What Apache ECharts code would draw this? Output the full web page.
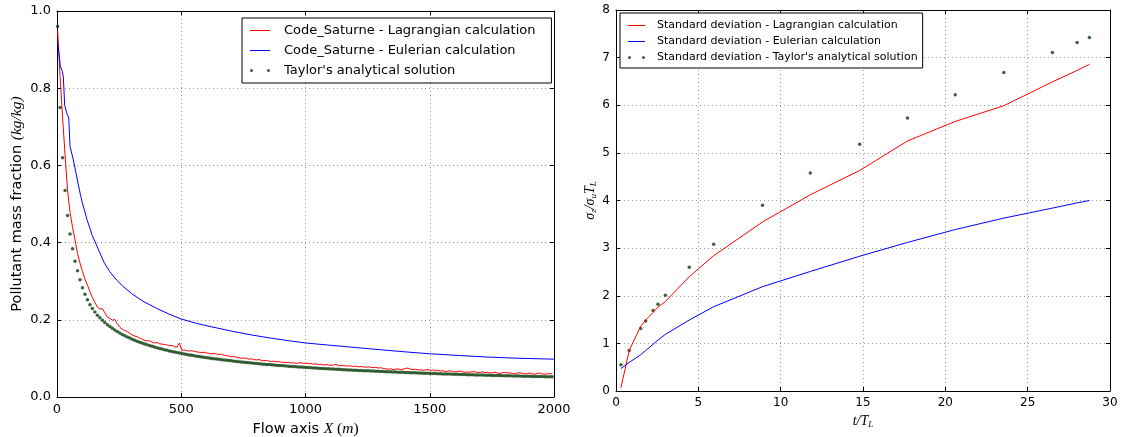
<!DOCTYPE html>
<html><head><meta charset="utf-8">
<script src="https://cdn.jsdelivr.net/npm/echarts@6/dist/echarts.min.js"></script>
<style>html,body{margin:0;padding:0;background:#fff}#c{width:1122px;height:437px}</style>
</head><body><div id="c"></div>
<script>
// ---------- LEFT PANEL DATA ----------
const stationStart = 2.5;   // first sampling station along X (m)
const stationStep = 10;     // station spacing (m)
const taylorLeft = [0.96,0.75,0.62,0.535,0.47,0.422,0.384,0.352,0.327,0.304,
 0.283,0.266,0.252,0.239,0.229,0.22,0.212,0.205,0.199,0.193,
 0.1875,0.1825,0.1779,0.1736,0.1695,0.1657,0.1622,0.1588,0.1556,0.1526,
 0.1497,0.147,0.1444,0.142,0.1396,0.1374,0.1353,0.1332,0.1313,0.1294,
 0.1276,0.1258,0.1241,0.1225,0.1209,0.1194,0.118,0.1166,0.1152,0.1139,
 0.1127,0.1114,0.1102,0.109,0.1079,0.1068,0.1057,0.1047,0.1037,0.1027,
 0.1018,0.1009,0.1,0.0991,0.0983,0.0975,0.0967,0.0959,0.0952,0.0944,
 0.0936,0.0929,0.0922,0.0915,0.0908,0.0901,0.0895,0.0889,0.0883,0.0877,
 0.0869,0.0863,0.0857,0.0851,0.0845,0.084,0.0834,0.0829,0.0824,0.0819,
 0.0813,0.0808,0.0803,0.0798,0.0793,0.0788,0.0784,0.0779,0.0775,0.0771,
 0.0766,0.0762,0.0758,0.0753,0.0749,0.0745,0.0741,0.0737,0.0734,0.073,
 0.0726,0.0723,0.0719,0.0716,0.0712,0.0709,0.0706,0.0702,0.0699,0.0696,
 0.0692,0.0689,0.0686,0.0683,0.068,0.0677,0.0674,0.0671,0.0668,0.0665,
 0.0662,0.0659,0.0657,0.0654,0.0651,0.0649,0.0646,0.0644,0.0641,0.0639,
 0.0636,0.0633,0.0631,0.0628,0.0626,0.0623,0.0621,0.0618,0.0616,0.0614,
 0.0611,0.0608,0.0606,0.0604,0.0601,0.0599,0.0597,0.0595,0.0593,0.0591,
 0.0589,0.0587,0.0585,0.0583,0.0581,0.0579,0.0577,0.0575,0.0573,0.0571,
 0.0569,0.0567,0.0565,0.0564,0.0562,0.056,0.0558,0.0557,0.0555,0.0553,
 0.0551,0.055,0.0548,0.0546,0.0545,0.0543,0.0541,0.054,0.0538,0.0537,
 0.0535,0.0534,0.0532,0.0531,0.0529,0.0528,0.0526,0.0525,0.0523,0.0522];
const lagrangianLeft = [0.95,0.83,0.725,0.626,0.536,0.478,0.44,0.407,0.372,0.347,
 0.325,0.305,0.29,0.273,0.258,0.245,0.233,0.228,0.229,0.218,
 0.207,0.204,0.199,0.201,0.19,0.181,0.176,0.172,0.17,0.165,
 0.161,0.158,0.156,0.153,0.15,0.147,0.145,0.146,0.142,0.14,
 0.141,0.138,0.137,0.136,0.135,0.133,0.134,0.13,0.129,0.14,
 0.121,0.122,0.12,0.119,0.12,0.118,0.117,0.116,0.115,0.116,
 0.114,0.113,0.112,0.113,0.111,0.11,0.111,0.108,0.107,0.106,
 0.104,0.105,0.103,0.102,0.1,0.101,0.1,0.098,0.099,0.097,
 0.096,0.097,0.095,0.094,0.095,0.093,0.092,0.093,0.091,0.092,
 0.09,0.09,0.089,0.09,0.088,0.089,0.087,0.088,0.089,0.087,
 0.088,0.086,0.087,0.085,0.086,0.084,0.085,0.083,0.084,0.083,
 0.082,0.083,0.084,0.082,0.081,0.082,0.08,0.081,0.08,0.079,
 0.08,0.078,0.079,0.078,0.077,0.078,0.077,0.076,0.077,0.075,
 0.076,0.074,0.073,0.072,0.073,0.071,0.072,0.073,0.071,0.072,
 0.074,0.075,0.072,0.071,0.072,0.07,0.071,0.069,0.07,0.071,
 0.069,0.07,0.068,0.069,0.067,0.068,0.066,0.067,0.068,0.066,
 0.065,0.066,0.067,0.065,0.064,0.065,0.064,0.066,0.065,0.063,
 0.064,0.065,0.063,0.064,0.062,0.063,0.064,0.062,0.061,0.063,
 0.064,0.062,0.063,0.061,0.06,0.062,0.063,0.061,0.06,0.061,
 0.062,0.06,0.059,0.061,0.062,0.06,0.059,0.06,0.061,0.06];
const eulerianLeftX = [1.5,8,13.5,21.5,25.5,31,41.5,47,52.5,64,75,84.5,95,102,112,121,131,142,152,162,172,190,212,240,265,300,346,400,450,500,560,620,708,780,856,930,1000,1100,1257,1380,1500,1620,1727,1850,2000];
const eulerianLeftY = [0.924,0.89,0.857,0.844,0.829,0.755,0.731,0.725,0.649,0.619,0.585,0.554,0.522,0.503,0.48,0.459,0.44,0.418,0.404,0.389,0.374,0.348,0.325,0.303,0.287,0.268,0.248,0.23,0.215,0.202,0.191,0.182,0.17,0.161,0.153,0.146,0.14,0.134,0.125,0.118,0.112,0.1075,0.1036,0.1005,0.098];
const leftXTicks = {min: 0, max: 2000, step: 500};
const leftYTicks = {min: 0, max: 1, step: 0.2};

// ---------- RIGHT PANEL DATA ----------
const timeRatio   = [0.3,0.8,1.5,1.8,2.25,2.55,3.0,4.45,5.93,8.9,11.8,14.8,17.7,20.6,23.55,26.5,28.0,28.75];
const sigmaLagr   = [0.07,0.85,1.36,1.49,1.65,1.76,1.88,2.4,2.84,3.55,4.12,4.63,5.25,5.66,5.99,6.49,6.73,6.86];
const sigmaEul    = [0.47,0.6,0.76,0.85,0.98,1.07,1.19,1.49,1.77,2.19,2.51,2.83,3.12,3.39,3.63,3.84,3.95,4.0];
const sigmaTaylor = [0.55,0.85,1.31,1.47,1.69,1.82,2.01,2.6,3.08,3.9,4.58,5.18,5.73,6.22,6.69,7.11,7.32,7.42];
const rightXTicks = {min: 0, max: 30, step: 5};
const rightYTicks = {min: 0, max: 8, step: 1};

const leftNames = ['Code_Saturne - Lagrangian calculation','Code_Saturne - Eulerian calculation',"Taylor's analytical solution"];
const rightNames = ['Standard deviation - Lagrangian calculation','Standard deviation - Eulerian calculation',"Standard deviation - Taylor's analytical solution"];

// ---------- build ----------
const stationX = taylorLeft.map((_, i) => stationStart + i * stationStep);
const pairs = (xs, ys) => xs.map((x, i) => [x, ys[i]]);

const SANS = 'DejaVu Sans';
const SERIF = 'Liberation Serif';
const RED = '#ff0000', BLUE = '#0000ff', GREEN = '#0b3d0b';
const gridLine = {show: true, lineStyle: {color: '#9a9a9a', type: [1, 3], width: 1}};
const frameLine = {show: true, onZero: false, lineStyle: {color: '#000', width: 1}};
const tick = {show: true, inside: true, length: 4, lineStyle: {color: '#000'}};

function mainAxis(gi, t, pos, fs, fmt, extra) {
  return Object.assign({
    type: 'value', gridIndex: gi, position: pos, min: t.min, max: t.max, interval: t.step,
    axisLine: frameLine, axisTick: tick, splitLine: gridLine,
    axisLabel: {color: '#000', fontFamily: SANS, fontSize: fs, margin: 6, formatter: fmt}
  }, extra || {});
}
function mirrorAxis(gi, t, pos) {
  return {type: 'value', gridIndex: gi, position: pos, min: t.min, max: t.max, interval: t.step,
    axisLine: frameLine, axisTick: tick, splitLine: {show: false}, axisLabel: {show: false}};
}
const mathRich = {
  t: {fontFamily: SANS, fontSize: 14.5, color: '#000'},
  m: {fontFamily: SERIF, fontStyle: 'italic', fontSize: 15.5, color: '#000'},
  r: {fontFamily: SERIF, fontSize: 15.5, color: '#000'}
};
const mathRich2 = {
  m: {fontFamily: SERIF, fontStyle: 'italic', fontSize: 14, color: '#000', lineHeight: 16},
  s: {fontFamily: SERIF, fontStyle: 'italic', fontSize: 9, color: '#000', lineHeight: 16, verticalAlign: 'bottom', padding: [6, 0, 0, 0]}
};

const lineIconL = 'path://M0,0H20V1H0Z';
const dotsIconL = 'path://M0,1.5a1.5,1.5 0 1,0 3,0a1.5,1.5 0 1,0 -3,0M17,1.5a1.5,1.5 0 1,0 3,0a1.5,1.5 0 1,0 -3,0';
const lineIconR = 'path://M0,0H17V1H0Z';
const dotsIconR = 'path://M0,1.5a1.5,1.5 0 1,0 3,0a1.5,1.5 0 1,0 -3,0M14,1.5a1.5,1.5 0 1,0 3,0a1.5,1.5 0 1,0 -3,0';

const option = {
  animation: false,
  backgroundColor: '#fff',
  grid: [
    {left: 57, top: 11, width: 497, height: 386, outerBoundsMode: 'none', containLabel: false},
    {left: 616, top: 10, width: 494, height: 381, outerBoundsMode: 'none', containLabel: false}
  ],
  xAxis: [
    mainAxis(0, leftXTicks, 'bottom', 13, v => String(v), {
      name: '{t|Flow axis }{m|X}{r| (}{m|m}{r|)}', nameLocation: 'middle', nameGap: 23,
      nameTextStyle: {rich: mathRich}
    }),
    mirrorAxis(0, leftXTicks, 'top'),
    mainAxis(1, rightXTicks, 'bottom', 12, v => String(v), {
      name: '{m|t/T}{s|L}', nameLocation: 'middle', nameGap: 22,
      nameTextStyle: {rich: mathRich2}
    }),
    mirrorAxis(1, rightXTicks, 'top')
  ],
  yAxis: [
    mainAxis(0, leftYTicks, 'left', 13, v => v.toFixed(1), {
      name: '{t|Pollutant mass fraction }{m|(kg/kg)}', nameLocation: 'middle', nameGap: 32,
      nameTextStyle: {rich: mathRich}
    }),
    mirrorAxis(0, leftYTicks, 'right'),
    mainAxis(1, rightYTicks, 'left', 12, v => String(v), {
      name: '{m|σ}{s|z}{m|/σ}{s|u}{m|T}{s|L}', nameLocation: 'middle', nameGap: 17,
      nameTextStyle: {rich: mathRich2}
    }),
    mirrorAxis(1, rightYTicks, 'right')
  ],
  legend: [
    {
      left: 242, top: 18, orient: 'vertical', padding: [6, 16, 6, 8], itemGap: 7,
      itemWidth: 20, itemHeight: 14, borderColor: '#000', borderWidth: 1, backgroundColor: '#fff',
      textStyle: {fontFamily: SANS, fontSize: 13, color: '#000', padding: [0, 0, 0, 9]},
      data: [{name: leftNames[0], icon: lineIconL}, {name: leftNames[1], icon: lineIconL}, {name: leftNames[2], icon: dotsIconL}]
    },
    {
      left: 620, top: 13, orient: 'vertical', padding: [7, 5, 5, 8], itemGap: 5,
      itemWidth: 17, itemHeight: 10, borderColor: '#000', borderWidth: 1, backgroundColor: '#fff',
      textStyle: {fontFamily: SANS, fontSize: 11, color: '#000', padding: [0, 0, 0, 7]},
      data: [{name: rightNames[0], icon: lineIconR}, {name: rightNames[1], icon: lineIconR}, {name: rightNames[2], icon: dotsIconR}]
    }
  ],
  series: [
    {name: leftNames[0], type: 'line', xAxisIndex: 0, yAxisIndex: 0, data: pairs(stationX, lagrangianLeft),
     symbol: 'none', lineStyle: {color: RED, width: 1}, itemStyle: {color: RED}},
    {name: leftNames[1], type: 'line', xAxisIndex: 0, yAxisIndex: 0, data: pairs(eulerianLeftX, eulerianLeftY),
     symbol: 'none', lineStyle: {color: BLUE, width: 1}, itemStyle: {color: BLUE}},
    {name: leftNames[2], type: 'scatter', xAxisIndex: 0, yAxisIndex: 0, data: pairs(stationX, taylorLeft),
     symbolSize: 3.5, itemStyle: {color: GREEN}},
    {name: rightNames[0], type: 'line', xAxisIndex: 2, yAxisIndex: 2, data: pairs(timeRatio, sigmaLagr),
     symbol: 'none', lineStyle: {color: RED, width: 1}, itemStyle: {color: RED}},
    {name: rightNames[1], type: 'line', xAxisIndex: 2, yAxisIndex: 2, data: pairs(timeRatio, sigmaEul),
     symbol: 'none', lineStyle: {color: BLUE, width: 1}, itemStyle: {color: BLUE}},
    {name: rightNames[2], type: 'scatter', xAxisIndex: 2, yAxisIndex: 2, data: pairs(timeRatio, sigmaTaylor),
     symbolSize: 3.5, itemStyle: {color: GREEN}}
  ]
};
const chart = echarts.init(document.getElementById('c'), null, {renderer: 'canvas'});
chart.setOption(option);
</script></body></html>
